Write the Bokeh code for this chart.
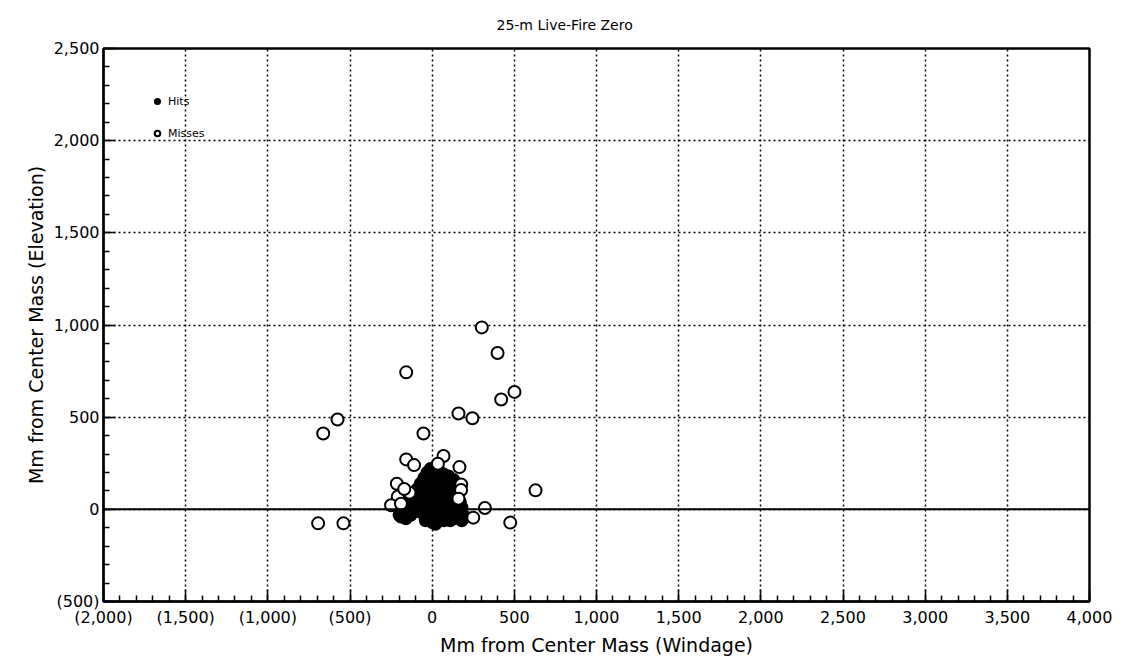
from bokeh.plotting import figure
from bokeh.models import (SingleIntervalTicker, NumeralTickFormatter, Span, Legend,
                          LegendItem, Range1d)
from bokeh.embed import file_html
from bokeh.resources import INLINE

title_text = "25-m Live-Fire Zero"
x_label = "Mm from Center Mass (Windage)"
y_label = "Mm from Center Mass (Elevation)"

# Misses (open markers)
miss_x = [-663, -576, -694, -540, -158, -53, 302, 398, 420, 501, 160, 245, -158, -110,
          69, 35, 166, -215, -209, -250, -138, 177, 176, 160, 629, 321, 250, 475, -190, -170]
miss_y = [411, 487, -76, -76, 743, 411, 987, 848, 596, 637, 520, 494, 271, 240,
          289, 247, 229, 139, 69, 22, 90, 135, 105, 58, 103, 7, -45, -72, 30, 110]

# Hits (filled markers)
hit_x = [-30, -10, 10, 30, -50, -70, -90, -110, -130, -60, -20, 0, 20, 50, 70, 90, 110,
         130, 150, 170, -40, -10, 20, 40, 60, 80, 100, 120, 140, 160, -150, -170, -190,
         -160, -130, -100, -80, -60, -30, 0, 10, 30, 50, 70, 90, 110, 130, 180, 200, -20,
         -40, 0, 20, 40, 60, 80, 150, 130, 100, 70, 40, -120, -200, 180, 160]
hit_y = [200, 220, 180, 160, 170, 140, 110, 80, 60, 100, 130, 150, 120, 130, 110, 140, 100,
         80, 60, 40, 60, 80, 70, 50, 80, 40, 20, 0, -20, -40, 20, -10, -40,
         -50, -30, -10, 20, -20, 10, 30, -10, -30, -50, -60, -40, -60, -50, -60, -40, -40,
         -60, -70, -80, -20, 0, -20, 120, 160, 180, 190, 210, 30, -30, 10, 90]

FONT = "DejaVu Sans"

p = figure(width=1117, height=658, output_backend="svg", toolbar_location=None,
           x_range=Range1d(-2000, 4000), y_range=Range1d(-500, 2500),
           min_border_left=103, min_border_right=28, min_border_top=48, min_border_bottom=56)

p.title.text = title_text
p.title.text_font = FONT
p.title.text_font_size = "14px"
p.title.text_font_style = "normal"
p.title.text_color = "black"
p.title.align = "left"
p.title.offset = 393
p.title.vertical_align = "top"
p.title.standoff = 28

for ax in (p.xaxis[0], p.yaxis[0]):
    ax.ticker = SingleIntervalTicker(interval=500, num_minor_ticks=5)
    ax.formatter = NumeralTickFormatter(format="(0,0)")
    ax.major_label_text_font = FONT
    ax.major_label_text_font_size = "16px"
    ax.major_label_text_color = "black"
    ax.axis_label_text_font = FONT
    ax.axis_label_text_font_size = "19px"
    ax.axis_label_text_font_style = "normal"
    ax.axis_label_text_color = "black"
    ax.axis_line_color = "black"
    ax.axis_line_width = 2
    ax.major_tick_line_color = "black"
    ax.minor_tick_line_color = "black"
    ax.major_tick_line_width = 1.5
    ax.minor_tick_line_width = 1.5
    ax.major_tick_in = 12
    ax.major_tick_out = 0
    ax.minor_tick_in = 6
    ax.minor_tick_out = 0
    ax.major_label_standoff = 6
    ax.axis_label_standoff = 4

p.xaxis.axis_label = x_label
p.yaxis.axis_label = y_label
p.yaxis.major_label_standoff = 4

for g in (p.xgrid[0], p.ygrid[0]):
    g.ticker = SingleIntervalTicker(interval=500)
    g.grid_line_color = "black"
    g.grid_line_dash = "2 3"
    g.grid_line_width = 1.5

p.outline_line_color = "black"
p.outline_line_width = 2.5

p.add_layout(Span(location=0, dimension="width", line_color="black", line_width=2))

r_hit = p.scatter(hit_x, hit_y, marker="circle", size=12, fill_color="black",
                  line_color="black", line_width=1.5)
r_miss = p.scatter(miss_x, miss_y, marker="circle", size=12, fill_color="white",
                   line_color="black", line_width=2)

legend = Legend(items=[LegendItem(label="Hits", renderers=[r_hit]),
                       LegendItem(label="Misses", renderers=[r_miss])],
                location=(47, 461), orientation="vertical",
                padding=0, margin=0, spacing=18, glyph_width=14, glyph_height=14,
                label_standoff=4, label_text_font=FONT, label_text_font_size="11px",
                label_text_color="black",
                background_fill_alpha=0, border_line_alpha=0)
p.add_layout(legend)

open("out.html", "w").write(file_html(p, INLINE))
